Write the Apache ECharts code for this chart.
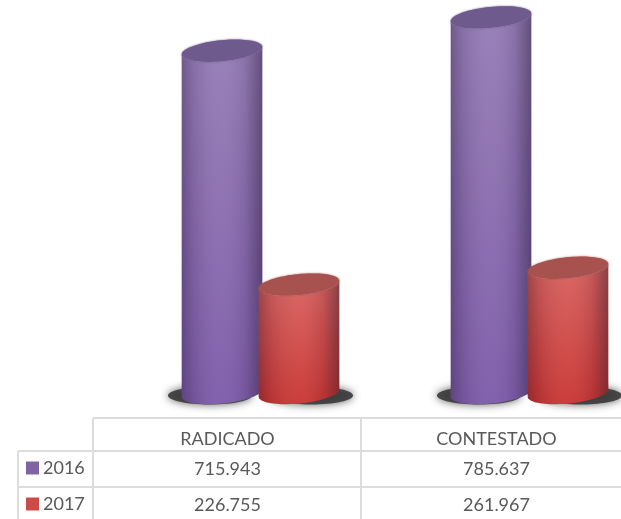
<!DOCTYPE html>
<html><head><meta charset="utf-8">
<style>html,body{margin:0;padding:0;background:#fff;overflow:hidden}#c{width:621px;height:519px}</style>
<script src="https://cdn.jsdelivr.net/npm/echarts@6/dist/echarts.min.js"></script>
</head><body><div id="c"></div>
<script>
const categories = ['RADICADO', 'CONTESTADO'];
const seriesNames = ['2016', '2017'];
const values2016 = [715943, 785637];
const values2017 = [226755, 261967];

const fmt = v => String(v).replace(/\B(?=(\d{3})+$)/g, '.');
const FONT = 'Lato';
const TXT = '#595959';
const LINE = '#dcdcdc';
const tilt = 0.10, RX = 40.5, RY = 10.5;

function ellPt(cx, cy, t) {
  const x = RX * Math.cos(t), y = RY * Math.sin(t);
  return [cx + x * Math.cos(tilt) + y * Math.sin(tilt), cy - x * Math.sin(tilt) + y * Math.cos(tilt)];
}
function hGrad(stops) {
  return { type: 'linear', x: 0, y: 0, x2: 1, y2: 0, colorStops: stops };
}
function vGrad(a, b) {
  return { type: 'linear', x: 0, y: 0, x2: 0, y2: 1, colorStops: [{ offset: 0, color: a }, { offset: 1, color: b }] };
}
function cylinder(opts) {
  return function (params, api) {
    const top = api.coord([api.value(0), api.value(1)]);
    const base = api.coord([api.value(0), 0]);
    const cx = top[0] + opts.dx, yt = top[1], yb = base[1];
    const body = [];
    const N = 40;
    for (let i = 0; i <= N; i++) body.push(ellPt(cx, yt, Math.PI - Math.PI * i / N));
    for (let i = 0; i <= N; i++) body.push(ellPt(cx, yb, Math.PI * i / N));
    const topPts = [];
    for (let i = 0; i < 80; i++) topPts.push(ellPt(cx, yt, 2 * Math.PI * i / 80));
    return {
      type: 'group',
      children: [
        { type: 'ellipse', shape: { cx: cx + opts.sdx, cy: yb + 2.5, rx: 42, ry: 9 },
          style: { fill: '#3a3a3a', opacity: 0.9, shadowBlur: 8, shadowColor: 'rgba(0,0,0,0.7)' } },
        { type: 'polygon', shape: { points: body }, style: { fill: vGrad(opts.cTop, opts.cBot) } },
        { type: 'polygon', shape: { points: body }, style: { fill: hGrad([
          { offset: 0, color: 'rgba(30,20,40,0.32)' },
          { offset: 0.14, color: 'rgba(30,20,40,0.12)' },
          { offset: 0.5, color: 'rgba(255,255,255,0.04)' },
          { offset: 0.8, color: 'rgba(30,20,40,0.1)' },
          { offset: 1, color: 'rgba(30,20,40,0.42)' }]) } },
        { type: 'polygon', shape: { points: topPts }, style: { fill: opts.cCap, shadowBlur: 2, shadowColor: opts.cCap } }
      ]
    };
  };
}
const hLines = [[93, 418, 621, 418], [18, 451, 621, 451], [18, 487, 621, 487]];
const vLines = [[18, 451, 18, 519], [93, 418, 93, 519], [361, 418, 361, 519]];
const lineEls = hLines.concat(vLines).map(l => ({
  type: 'line', shape: { x1: l[0], y1: l[1], x2: l[2], y2: l[3] },
  style: { stroke: LINE, lineWidth: 2 }, silent: true
}));
const tableAxis = (gridIndex, data) => ({
  type: 'category', gridIndex, data, position: 'bottom',
  axisLine: { show: false }, axisTick: { show: false }, splitLine: { show: false },
  axisLabel: { show: true, interval: 0, color: TXT, fontFamily: FONT, fontSize: 18, margin: 0, verticalAlign: 'middle', lineHeight: 20 }
});
const option = {
  animation: false,
  backgroundColor: '#fff',
  legend: {
    orient: 'vertical', left: 26, top: 459, height: 120, padding: 0, itemWidth: 13, itemHeight: 13, itemGap: 18,
    icon: 'rect', selectedMode: false, data: seriesNames,
    textStyle: { color: TXT, fontFamily: FONT, fontSize: 18, padding: [0, 0, 0, -1] }
  },
  graphic: lineEls,
  grid: [
    { left: 126, width: 538, top: 0, height: 393, outerBoundsMode: 'none' },
    { left: 93, width: 538, top: 0, height: 439, outerBoundsMode: 'none' },
    { left: 93, width: 538, top: 0, height: 469, outerBoundsMode: 'none' },
    { left: 93, width: 538, top: 0, height: 505, outerBoundsMode: 'none' }
  ],
  xAxis: [
    { type: 'category', gridIndex: 0, data: categories, axisLine: { show: false }, axisTick: { show: false }, axisLabel: { show: false } },
    tableAxis(1, categories),
    tableAxis(2, values2016.map(fmt)),
    tableAxis(3, values2017.map(fmt))
  ],
  yAxis: [0, 1, 2, 3].map(i => ({ type: 'value', gridIndex: i, min: 0, max: 822000, show: false })),
  series: [
    { name: seriesNames[0], type: 'custom', xAxisIndex: 0, yAxisIndex: 0, z: 2, clip: false,
      itemStyle: { color: '#8064a2' },
      encode: { x: 0, y: 1 }, data: categories.map((c, i) => [i, values2016[i]]),
      renderItem: cylinder({ dx: -38.5, sdx: -12, cTop: '#957cb6', cBot: '#7d5ba9', cCap: '#6f5a8d' }) },
    { name: seriesNames[1], type: 'custom', xAxisIndex: 0, yAxisIndex: 0, z: 3, clip: false,
      itemStyle: { color: '#cc4b48' },
      encode: { x: 0, y: 1 }, data: categories.map((c, i) => [i, values2017[i]]),
      renderItem: cylinder({ dx: 38.5, sdx: 12, cTop: '#d8625f', cBot: '#c93533', cCap: '#a85250' }) }
  ]
};
const chart = echarts.init(document.getElementById('c'), null, { renderer: 'canvas' });
chart.setOption(option);
</script></body></html>
